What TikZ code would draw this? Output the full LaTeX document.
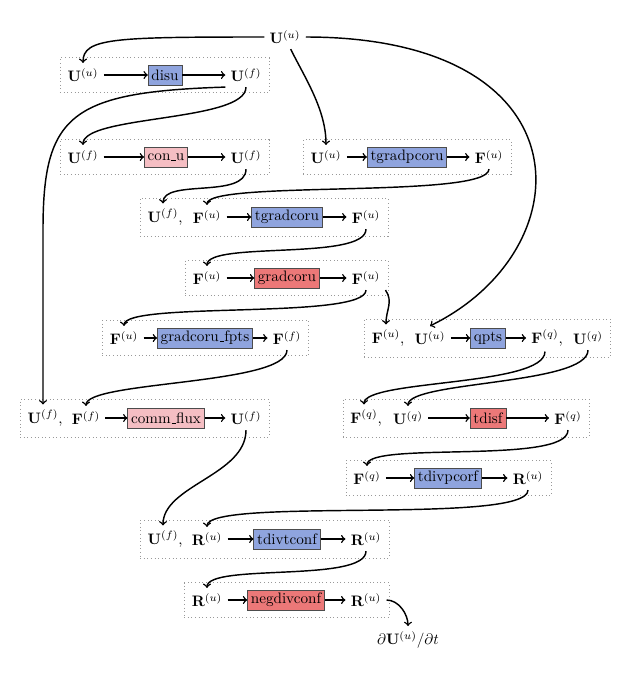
\documentclass[tikz,border=0pt]{standalone}
\usepackage{amsmath, amssymb}
\usetikzlibrary{fit}

\definecolor{kernelblue}{RGB}{143,164,222}
\definecolor{kernelpink}{RGB}{245,190,195}
\definecolor{kernelred}{RGB}{236,120,120}
\newcommand{\us}{\leavevmode\kern.06em\vbox{\hrule width.3em}}

\tikzset{
  kernel/.style={draw=black!70, rectangle, minimum height=13pt, inner xsep=2.2pt, inner ysep=0pt},
  kblue/.style={kernel, fill=kernelblue},
  kpink/.style={kernel, fill=kernelpink},
  kred/.style={kernel, fill=kernelred},
  group/.style={draw=gray!80, dotted, inner xsep=1.5pt, inner ysep=3.5pt},
  flow/.style={->, line width=0.95pt},
}

\begin{document}
\begin{tikzpicture}[x=0.66pt, y=-0.66pt]
  \useasboundingbox (0,0) rectangle (627,680);

  \node (uin) at (285,37) {$\mathbf{U}^{(u)}$};

  % disu
  \node (a1) at (83,75) {$\mathbf{U}^{(u)}$};
  \node[kblue] (p1) at (165,75) {disu};
  \node (b1) at (246,75) {$\mathbf{U}^{(f)}$};

  % con_u
  \node (a2) at (83,157) {$\mathbf{U}^{(f)}$};
  \node[kpink] (p2) at (166,157) {con\us u};
  \node (b2) at (246,157) {$\mathbf{U}^{(f)}$};

  % tgradpcoru
  \node (a3) at (326,157) {$\mathbf{U}^{(u)}$};
  \node[kblue] (p3) at (407,157) {tgradpcoru};
  \node (b3) at (489,157) {$\mathbf{F}^{(u)}$};

  % tgradcoru
  \node (a4) at (163,217) {$\mathbf{U}^{(f)}$\rlap{,}};
  \node (c4) at (207,217) {$\mathbf{F}^{(u)}$};
  \node[kblue] (p4) at (287,217) {tgradcoru};
  \node (b4) at (366,217) {$\mathbf{F}^{(u)}$};

  % gradcoru
  \node (a5) at (207,278) {$\mathbf{F}^{(u)}$};
  \node[kred] (p5) at (287,278) {gradcoru};
  \node (b5) at (366,278) {$\mathbf{F}^{(u)}$};

  % gradcoru_fpts
  \node (a6) at (124,338) {$\mathbf{F}^{(u)}$};
  \node[kblue] (p6) at (205,338) {gradcoru\us fpts};
  \node (b6) at (287,338) {$\mathbf{F}^{(f)}$};

  % qpts
  \node (a7) at (386,338) {$\mathbf{F}^{(u)}$\rlap{,}};
  \node (c7) at (430,338) {$\mathbf{U}^{(u)}$};
  \node[kblue] (p7) at (488,338) {qpts};
  \node (b7) at (545,338) {$\mathbf{F}^{(q)}$\rlap{,}};
  \node (d7) at (588,338) {$\mathbf{U}^{(q)}$};

  % comm_flux
  \node (a8) at (43,418) {$\mathbf{U}^{(f)}$\rlap{,}};
  \node (c8) at (86,418) {$\mathbf{F}^{(f)}$};
  \node[kpink] (p8) at (166,418) {comm\us flux};
  \node (b8) at (246,418) {$\mathbf{U}^{(f)}$};

  % tdisf
  \node (a9) at (364,418) {$\mathbf{F}^{(q)}$\rlap{,}};
  \node (c9) at (408,418) {$\mathbf{U}^{(q)}$};
  \node[kred] (p9) at (488,418) {tdisf};
  \node (b9) at (568,418) {$\mathbf{F}^{(q)}$};

  % tdivpcorf
  \node (a10) at (367,478) {$\mathbf{F}^{(q)}$};
  \node[kblue] (p10) at (448,478) {tdivpcorf};
  \node (b10) at (528,478) {$\mathbf{R}^{(u)}$};

  % tdivtconf
  \node (a11) at (163,539) {$\mathbf{U}^{(f)}$\rlap{,}};
  \node (c11) at (207,539) {$\mathbf{R}^{(u)}$};
  \node[kblue] (p11) at (287,539) {tdivtconf};
  \node (b11) at (366,539) {$\mathbf{R}^{(u)}$};

  % negdivconf
  \node (a12) at (207,600) {$\mathbf{R}^{(u)}$};
  \node[kred] (p12) at (286,600) {negdivconf};
  \node (b12) at (366,600) {$\mathbf{R}^{(u)}$};

  \node (dudt) at (408,640) {$\partial\mathbf{U}^{(u)}/\partial t$};

  % dotted frames
  \node[group, fit=(a1)(p1)(b1)] {};
  \node[group, fit=(a2)(p2)(b2)] {};
  \node[group, fit=(a3)(p3)(b3)] {};
  \node[group, fit=(a4)(p4)(b4)] {};
  \node[group, fit=(a5)(p5)(b5)] {};
  \node[group, fit=(a6)(p6)(b6)] {};
  \node[group, fit=(a7)(p7)(d7)] {};
  \node[group, fit=(a8)(p8)(b8)] {};
  \node[group, fit=(a9)(p9)(b9)] {};
  \node[group, fit=(a10)(p10)(b10)] {};
  \node[group, fit=(a11)(p11)(b11)] {};
  \node[group, fit=(a12)(p12)(b12)] {};

  % arrows through the kernels
  \draw[flow] (a1) -- (p1);  \draw[flow] (p1) -- (b1);
  \draw[flow] (a2) -- (p2);  \draw[flow] (p2) -- (b2);
  \draw[flow] (a3) -- (p3);  \draw[flow] (p3) -- (b3);
  \draw[flow] (c4) -- (p4);  \draw[flow] (p4) -- (b4);
  \draw[flow] (a5) -- (p5);  \draw[flow] (p5) -- (b5);
  \draw[flow] (a6) -- (p6);  \draw[flow] (p6) -- (b6);
  \draw[flow] (c7) -- (p7);  \draw[flow] (p7) -- (b7);
  \draw[flow] (c8) -- (p8);  \draw[flow] (p8) -- (b8);
  \draw[flow] (c9) -- (p9);  \draw[flow] (p9) -- (b9);
  \draw[flow] (a10) -- (p10); \draw[flow] (p10) -- (b10);
  \draw[flow] (c11) -- (p11); \draw[flow] (p11) -- (b11);
  \draw[flow] (a12) -- (p12); \draw[flow] (p12) -- (b12);

  % data passed between the kernels
  \draw[flow] (uin.west) .. controls +(-150,0) and +(0,-25) .. (a1.north);
  \draw[flow] (uin.-65) .. controls +(15,30) and +(0,-35) .. (a3.north);
  \draw[flow] (uin.east) .. controls (590,37) and (585,250) .. (c7.north);
  \draw[flow] (b1.south) .. controls +(0,35) and +(0,-30) .. (a2.north);
  \draw[flow] (b1.south west) .. controls (70,92) and (43,115) .. (43,230) -- (a8.north);
  \draw[flow] (b2.south) .. controls +(0,30) and +(0,-25) .. (a4.north);
  \draw[flow] (b3.south) .. controls +(0,30) and +(0,-25) .. (c4.north);
  \draw[flow] (b4.south) .. controls +(0,32) and +(0,-25) .. (a5.north);
  \draw[flow] (b5.south) .. controls +(0,30) and +(0,-25) .. (a6.north);
  \draw[flow] (b5.south east) .. controls +(8,12) and +(0,-15) .. (a7.north);
  \draw[flow] (b6.south) .. controls +(0,35) and +(0,-25) .. (c8.north);
  \draw[flow] (b7.south) .. controls +(0,35) and +(0,-25) .. (a9.north);
  \draw[flow] (d7.south) .. controls +(0,35) and +(0,-25) .. (c9.north);
  \draw[flow] (b8.south) .. controls +(0,45) and +(0,-40) .. (a11.north);
  \draw[flow] (b9.south) .. controls +(0,35) and +(0,-25) .. (a10.north);
  \draw[flow] (b10.south) .. controls +(0,35) and +(0,-30) .. (c11.north);
  \draw[flow] (b11.south) .. controls +(0,32) and +(0,-25) .. (a12.north);
  \draw[flow] (b12.east) .. controls +(12,0) and +(0,-12) .. (dudt.north);
\end{tikzpicture}
\end{document}
